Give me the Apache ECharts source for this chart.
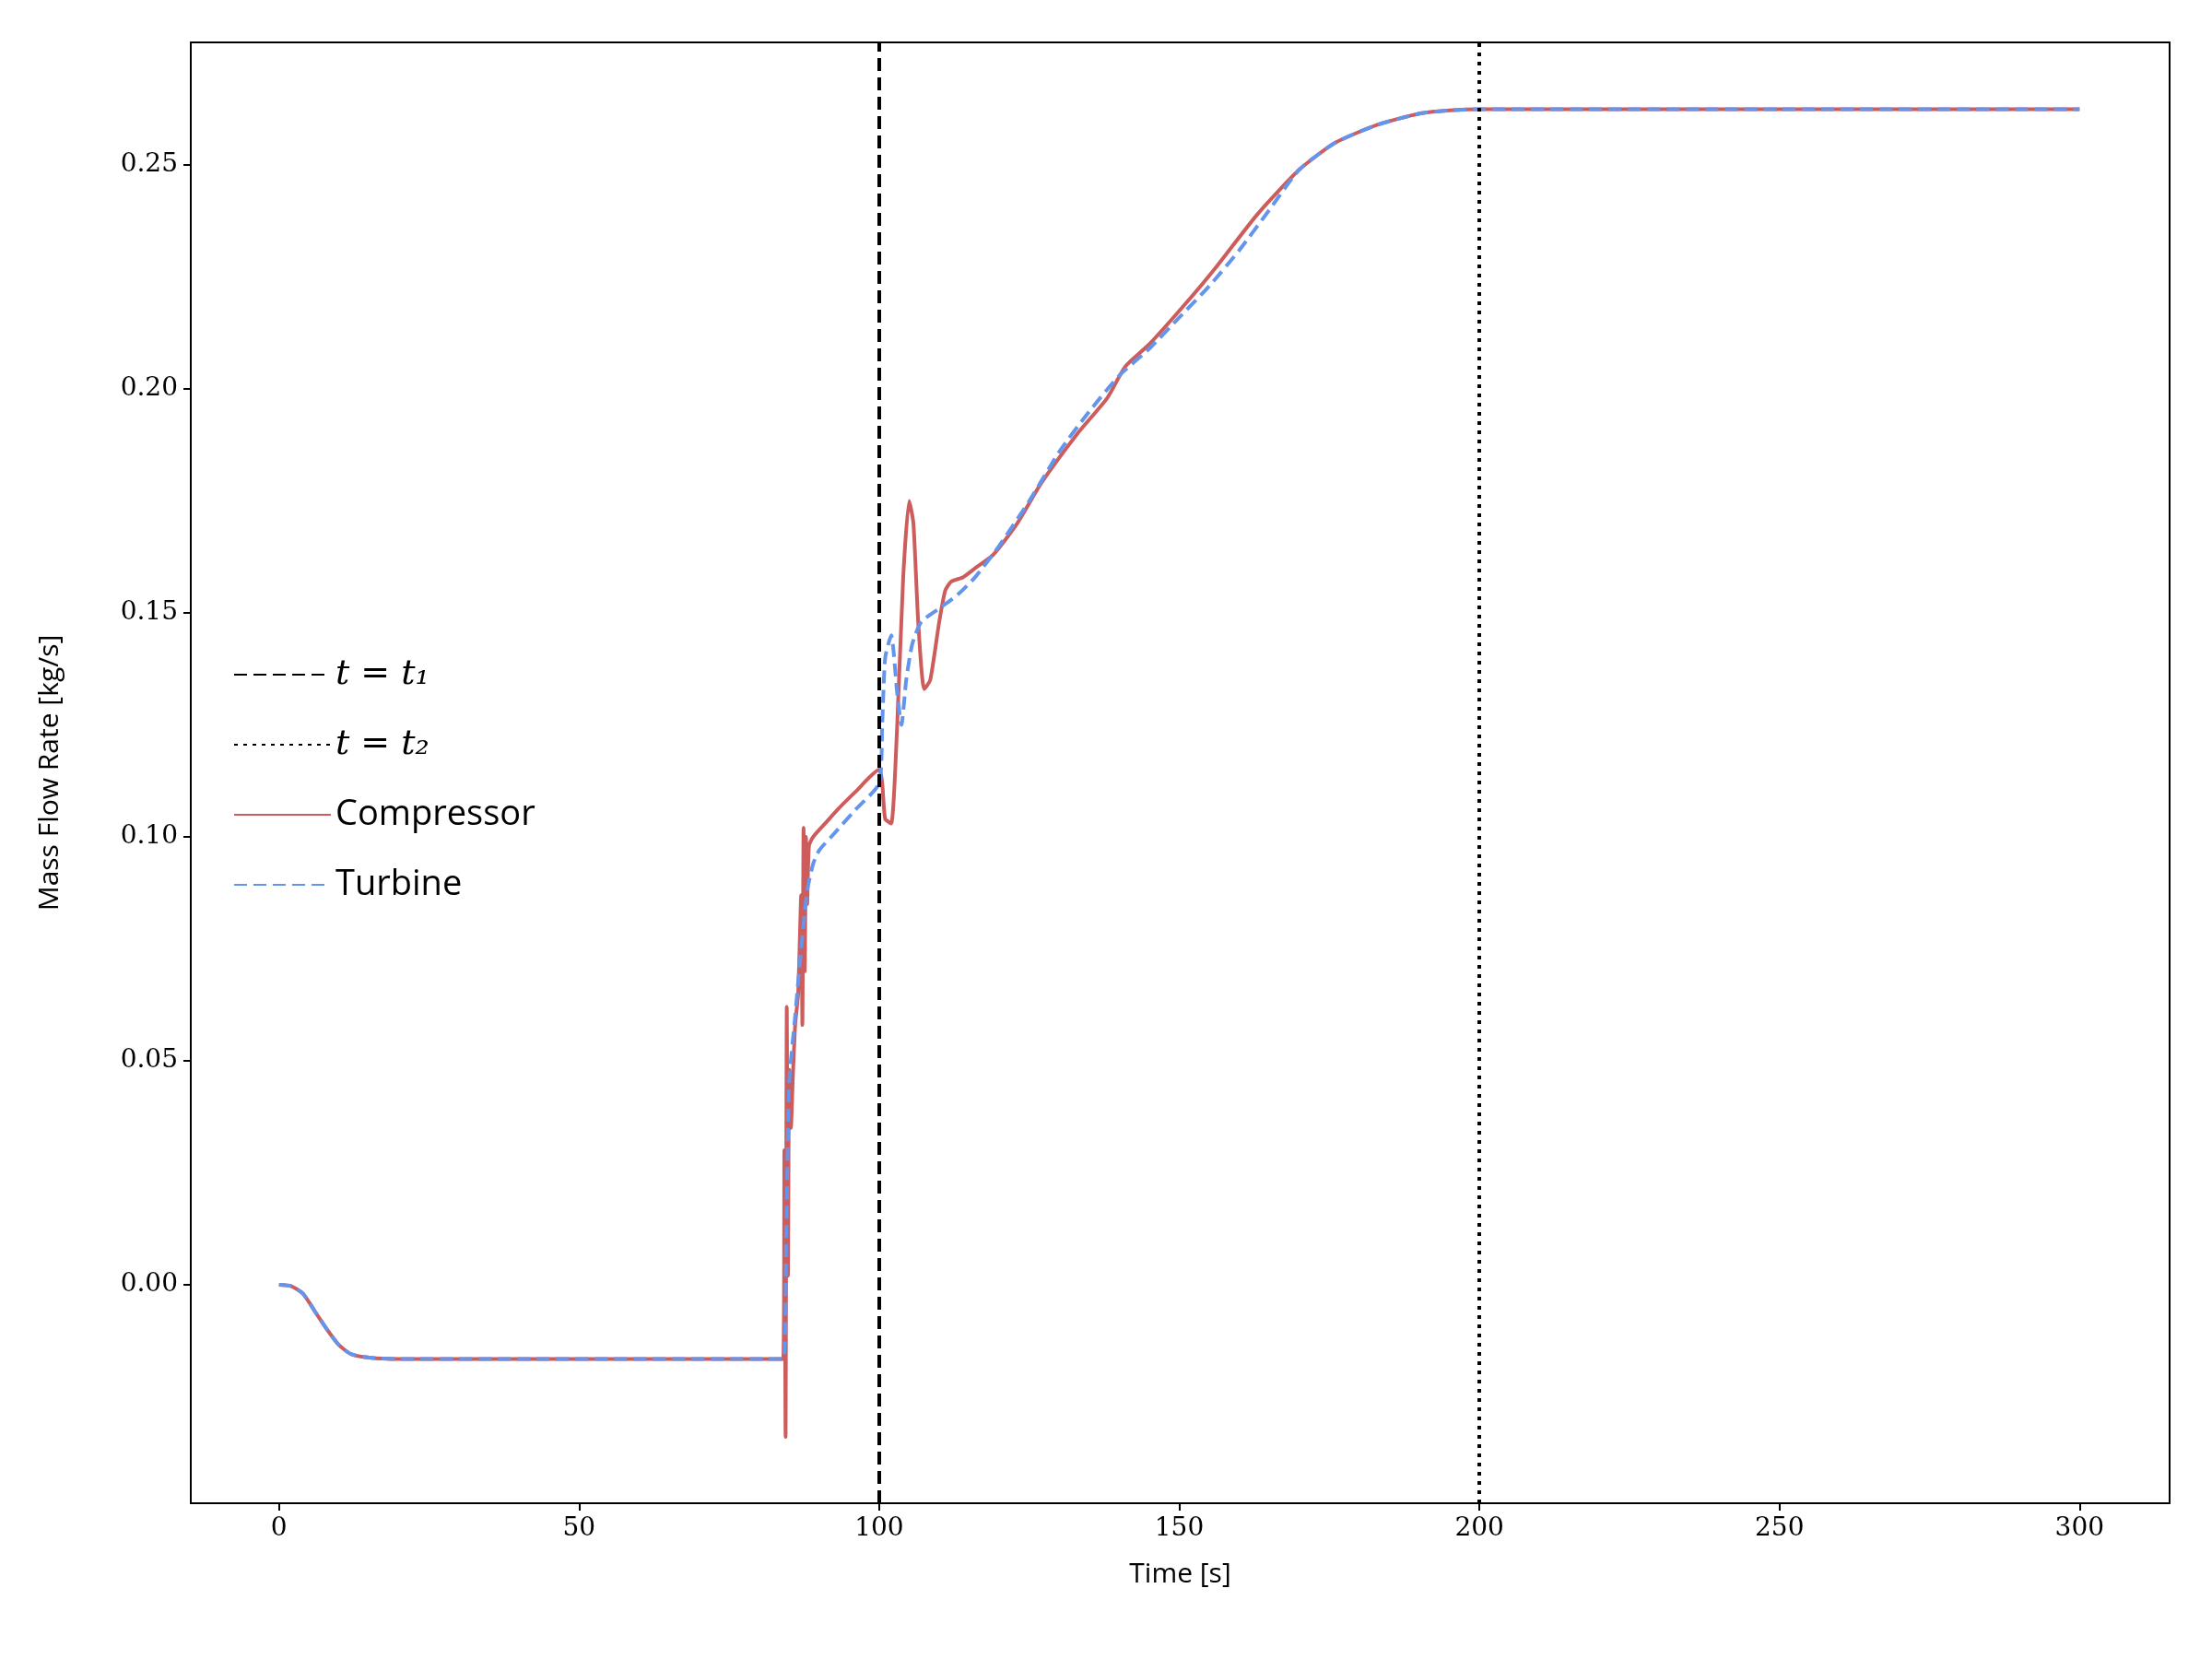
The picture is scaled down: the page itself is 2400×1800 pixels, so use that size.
<!DOCTYPE html>
<html><head><meta charset="utf-8">
<script src="https://cdn.jsdelivr.net/npm/echarts@6/dist/echarts.min.js"></script>
<style>body{margin:0}#c{width:2400px;height:1800px;background:#fff}</style></head>
<body><div id="c"></div>
<script>
const xTicks=[0,50,100,150,200,250,300];
const yTicks=[0,0.05,0.10,0.15,0.20,0.25];
const compT=[0,2,4,6,8,10,12,15,20,40,60,80,84,84.2,84.4,84.6,84.8,85,85.3,85.6,86,86.5,87,87.2,87.4,87.6,87.8,88,88.3,89,91,93,96,100,100.5,101,102,103,104,105,105.7,106.5,107.5,108.5,110,111,112,114,116,119,123,127,133,138,141,145,151,156,163,170,176,183,190,195,200,250,300];
const compV=[0,-0.0003,-0.002,-0.006,-0.010,-0.0135,-0.0155,-0.0163,-0.0166,-0.0166,-0.0166,-0.0166,-0.0166,0.03,-0.034,0.062,0.002,0.048,0.035,0.046,0.058,0.065,0.087,0.058,0.102,0.07,0.1,0.085,0.098,0.1,0.103,0.106,0.11,0.115,0.112,0.104,0.103,0.125,0.158,0.175,0.17,0.148,0.133,0.135,0.148,0.155,0.157,0.158,0.16,0.163,0.17,0.179,0.19,0.198,0.205,0.210,0.219,0.227,0.239,0.249,0.255,0.259,0.2615,0.2622,0.2625,0.2625,0.2625];
const turbT=[0,2,4,6,8,10,12,15,20,40,60,80,84,84.5,85,86,87,88,89,90,92,96,100,100.5,101,102,103,103.7,104.5,105.5,107,110,113,116,120,125,130,135,140,145,150,155,160,165,170,176,183,190,195,200,250,300];
const turbV=[0,-0.0003,-0.002,-0.006,-0.010,-0.0135,-0.0155,-0.0163,-0.0166,-0.0166,-0.0166,-0.0166,-0.0166,0.01,0.045,0.06,0.075,0.088,0.094,0.097,0.1,0.106,0.112,0.125,0.14,0.145,0.132,0.125,0.135,0.143,0.148,0.151,0.154,0.158,0.165,0.175,0.186,0.195,0.203,0.209,0.216,0.223,0.231,0.240,0.249,0.255,0.259,0.2615,0.2622,0.2625,0.2625,0.2625];
const zip=(a,b)=>a.map((v,i)=>[v,b[i]]);
const serif='"DejaVu Serif", "Liberation Serif", serif';
const frameAxis={show:true,axisLine:{show:true,onZero:false,lineStyle:{color:'#000',width:2}},axisTick:{show:false},axisLabel:{show:false},splitLine:{show:false}};
const chart=echarts.init(document.getElementById('c'));
chart.setOption({
 animation:false,
 grid:{left:207,right:46,top:46,bottom:169},
 xAxis:[{type:'value',min:-14.7,max:315,name:'Time [s]',nameLocation:'middle',nameGap:62,
  nameTextStyle:{fontSize:30,color:'#000',fontFamily:'"Open Sans", sans-serif'},
  axisLine:{onZero:false,lineStyle:{color:'#000',width:2}},
  axisTick:{customValues:xTicks,length:8,lineStyle:{color:'#000',width:2}},
  axisLabel:{customValues:xTicks,fontSize:28,color:'#000',fontFamily:serif,margin:14},
  splitLine:{show:false}},
  Object.assign({type:'value',position:'top',min:0,max:1},frameAxis)],
 yAxis:[{type:'value',min:-0.0488,max:0.2774,name:'Mass Flow Rate [kg/s]',nameLocation:'middle',nameGap:138,
  nameTextStyle:{fontSize:30,color:'#000',fontFamily:'"Open Sans", sans-serif'},
  axisLine:{onZero:false,lineStyle:{color:'#000',width:2}},
  axisTick:{customValues:yTicks,length:8,lineStyle:{color:'#000',width:2}},
  axisLabel:{customValues:yTicks,fontSize:28,color:'#000',fontFamily:serif,margin:14,formatter:v=>v.toFixed(2)},
  splitLine:{show:false}},
  Object.assign({type:'value',position:'right',min:0,max:1},frameAxis)],
 legend:{orient:'vertical',left:248,top:708,itemWidth:105,itemHeight:20,itemGap:38,
  itemStyle:{opacity:0},
  textStyle:{fontSize:38,color:'#000',fontFamily:'"Open Sans", sans-serif'},
  formatter:n=>n.startsWith('t')?'{i|'+n+'}':n,
  textStyle:{fontSize:38,color:'#000',fontFamily:'"Open Sans", sans-serif',rich:{i:{fontSize:38,fontStyle:'italic',fontFamily:serif}}},
  data:['t = t₁','t = t₂','Compressor','Turbine']},
 series:[
  {name:'t = t₁',type:'line',data:[],symbol:'none',lineStyle:{color:'#000',width:4,type:[14,7]},itemStyle:{color:'#000'},
   markLine:{silent:true,symbol:'none',label:{show:false},lineStyle:{color:'#000',width:4,type:[14,7]},data:[{xAxis:100}]}},
  {name:'t = t₂',type:'line',data:[],symbol:'none',lineStyle:{color:'#000',width:4,type:[4,6]},itemStyle:{color:'#000'},
   markLine:{silent:true,symbol:'none',label:{show:false},lineStyle:{color:'#000',width:4,type:[4,6]},data:[{xAxis:200}]}},
  {name:'Compressor',type:'line',smooth:0.2,data:zip(compT,compV),symbol:'none',lineStyle:{color:'#cd5c5c',width:4},itemStyle:{color:'#cd5c5c'}},
  {name:'Turbine',type:'line',smooth:0.2,data:zip(turbT,turbV),symbol:'none',lineStyle:{color:'#6495ed',width:4,type:[14,7]},itemStyle:{color:'#6495ed'}}
 ]
});
</script></body></html>
